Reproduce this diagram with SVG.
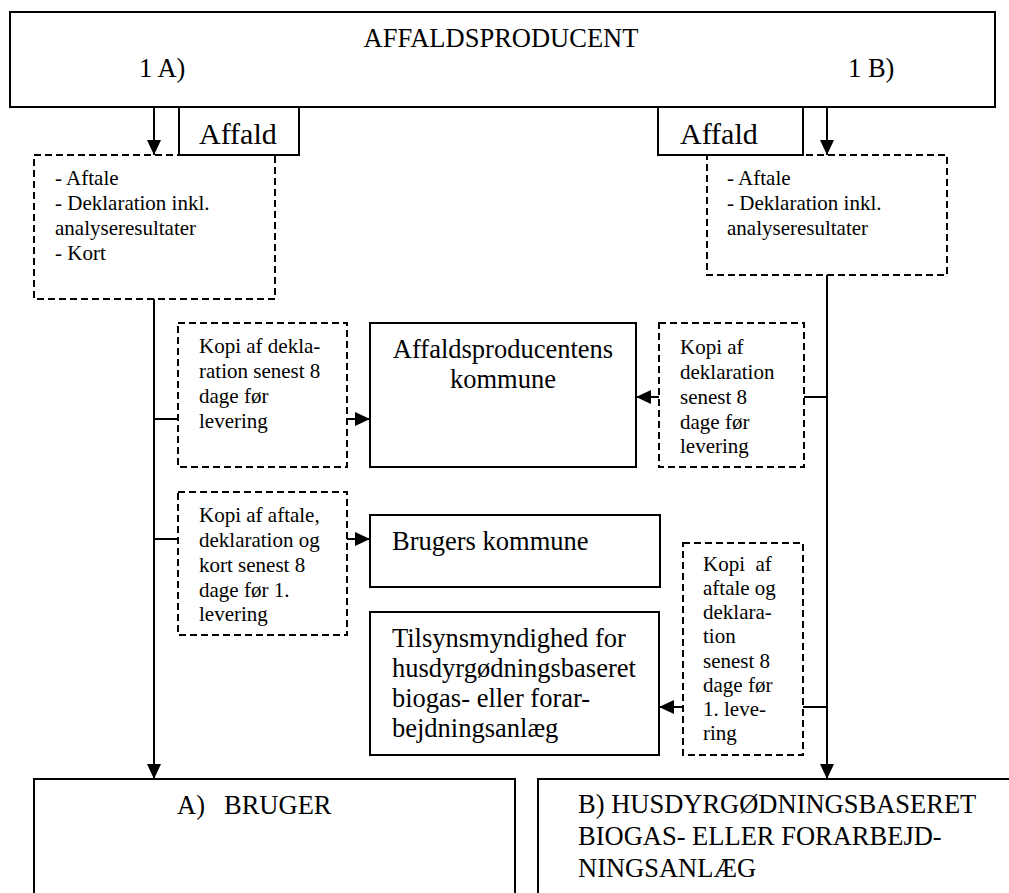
<svg xmlns="http://www.w3.org/2000/svg" width="1009" height="893" viewBox="0 0 1009 893">
<style>
  .box{fill:#fff;stroke:#000;stroke-width:2}
  .dash{fill:#fff;stroke:#000;stroke-width:2;stroke-dasharray:7 4}
  .ln{fill:none;stroke:#000;stroke-width:2}
  .t{font-family:"Liberation Serif","Times New Roman",serif;fill:#000}
  .big{font-size:26.5px}
  .sm{font-size:21px}
  .af{font-size:30px}
</style>
<defs>
  <marker id="arr" markerUnits="userSpaceOnUse" markerWidth="16" markerHeight="14" refX="15" refY="7" orient="auto">
    <path d="M0,0 L15,7 L0,14 z" fill="#000"/>
  </marker>
</defs>
<rect width="1009" height="893" fill="#fff"/>

<g id="connectors">
  <line class="ln" x1="154" y1="107" x2="154" y2="155" marker-end="url(#arr)"/>
  <line class="ln" x1="827" y1="107" x2="827" y2="155" marker-end="url(#arr)"/>
  <line class="ln" x1="154" y1="299" x2="154" y2="779" marker-end="url(#arr)"/>
  <line class="ln" x1="827" y1="275" x2="827" y2="779" marker-end="url(#arr)"/>
  <line class="ln" x1="154" y1="419" x2="178" y2="419"/>
  <line class="ln" x1="347" y1="419" x2="370" y2="419" marker-end="url(#arr)"/>
  <line class="ln" x1="154" y1="539" x2="178" y2="539"/>
  <line class="ln" x1="347" y1="539" x2="370" y2="539" marker-end="url(#arr)"/>
  <line class="ln" x1="827" y1="397" x2="804" y2="397"/>
  <line class="ln" x1="659" y1="397" x2="636" y2="397" marker-end="url(#arr)"/>
  <line class="ln" x1="827" y1="707" x2="803" y2="707"/>
  <line class="ln" x1="683" y1="707" x2="659" y2="707" marker-end="url(#arr)"/>
</g>

<g id="producent">
  <rect class="box" x="10" y="12" width="985" height="95"/>
  <text class="t big" x="501" y="47" text-anchor="middle">AFFALDSPRODUCENT</text>
  <text class="t big" x="139" y="77">1 A)</text>
  <text class="t big" x="848" y="77">1 B)</text>
</g>

<g id="docs-a">
  <rect class="dash" x="34" y="155" width="241" height="144"/>
  <text class="t sm" x="55" y="185">- Aftale</text>
  <text class="t sm" x="55" y="210">- Deklaration inkl.</text>
  <text class="t sm" x="55" y="235">analyseresultater</text>
  <text class="t sm" x="55" y="260">- Kort</text>
</g>

<g id="docs-b">
  <rect class="dash" x="707" y="155" width="240" height="120"/>
  <text class="t sm" x="727" y="185">- Aftale</text>
  <text class="t sm" x="727" y="210">- Deklaration inkl.</text>
  <text class="t sm" x="727" y="235">analyseresultater</text>
</g>

<g id="affald-a">
  <rect class="box" x="179" y="107" width="120" height="48"/>
  <text class="t af" x="199" y="144">Affald</text>
</g>

<g id="affald-b">
  <rect class="box" x="658" y="107" width="145" height="48"/>
  <text class="t af" x="680" y="144">Affald</text>
</g>

<g id="kopi-1">
  <rect class="dash" x="178" y="323" width="169" height="144"/>
  <text class="t sm" x="199" y="353">Kopi af dekla-</text>
  <text class="t sm" x="199" y="378">ration senest 8</text>
  <text class="t sm" x="199" y="403">dage før</text>
  <text class="t sm" x="199" y="428">levering</text>
</g>

<g id="prod-kommune">
  <rect class="box" x="370" y="323" width="266" height="144"/>
  <text class="t big" x="503" y="358" text-anchor="middle">Affaldsproducentens</text>
  <text class="t big" x="503" y="388" text-anchor="middle">kommune</text>
</g>

<g id="kopi-2">
  <rect class="dash" x="659" y="323" width="145" height="144"/>
  <text class="t sm" x="680" y="354">Kopi af</text>
  <text class="t sm" x="680" y="379">deklaration</text>
  <text class="t sm" x="680" y="404">senest 8</text>
  <text class="t sm" x="680" y="429">dage før</text>
  <text class="t sm" x="680" y="453">levering</text>
</g>

<g id="kopi-3">
  <rect class="dash" x="178" y="492" width="169" height="143"/>
  <text class="t sm" x="199" y="522">Kopi af aftale,</text>
  <text class="t sm" x="199" y="547">deklaration og</text>
  <text class="t sm" x="199" y="572">kort senest 8</text>
  <text class="t sm" x="199" y="597">dage før 1.</text>
  <text class="t sm" x="199" y="621">levering</text>
</g>

<g id="brugers-kommune">
  <rect class="box" x="370" y="515" width="290" height="72"/>
  <text class="t big" x="392" y="550">Brugers kommune</text>
</g>

<g id="kopi-4">
  <rect class="dash" x="683" y="543" width="120" height="212"/>
  <text class="t sm" x="703" y="571" xml:space="preserve">Kopi  af</text>
  <text class="t sm" x="703" y="595">aftale og</text>
  <text class="t sm" x="703" y="619">deklara-</text>
  <text class="t sm" x="703" y="643">tion</text>
  <text class="t sm" x="703" y="668">senest 8</text>
  <text class="t sm" x="703" y="692">dage før</text>
  <text class="t sm" x="703" y="716">1. leve-</text>
  <text class="t sm" x="703" y="740">ring</text>
</g>

<g id="tilsyn">
  <rect class="box" x="370" y="612" width="289" height="143"/>
  <text class="t big" x="392" y="647">Tilsynsmyndighed for</text>
  <text class="t big" x="392" y="677">husdyrgødningsbaseret</text>
  <text class="t big" x="392" y="707">biogas- eller forar-</text>
  <text class="t big" x="392" y="737">bejdningsanlæg</text>
</g>

<g id="bruger">
  <rect class="box" x="34" y="779" width="481" height="130"/>
  <text class="t big" x="177" y="814">A)</text>
  <text class="t big" x="224" y="814">BRUGER</text>
</g>

<g id="anlaeg">
  <rect class="box" x="538" y="779" width="490" height="130"/>
  <text class="t big" x="578" y="813">B) HUSDYRGØDNINGSBASERET</text>
  <text class="t big" x="578" y="845">BIOGAS- ELLER FORARBEJD-</text>
  <text class="t big" x="578" y="877">NINGSANLÆG</text>
</g>
</svg>
